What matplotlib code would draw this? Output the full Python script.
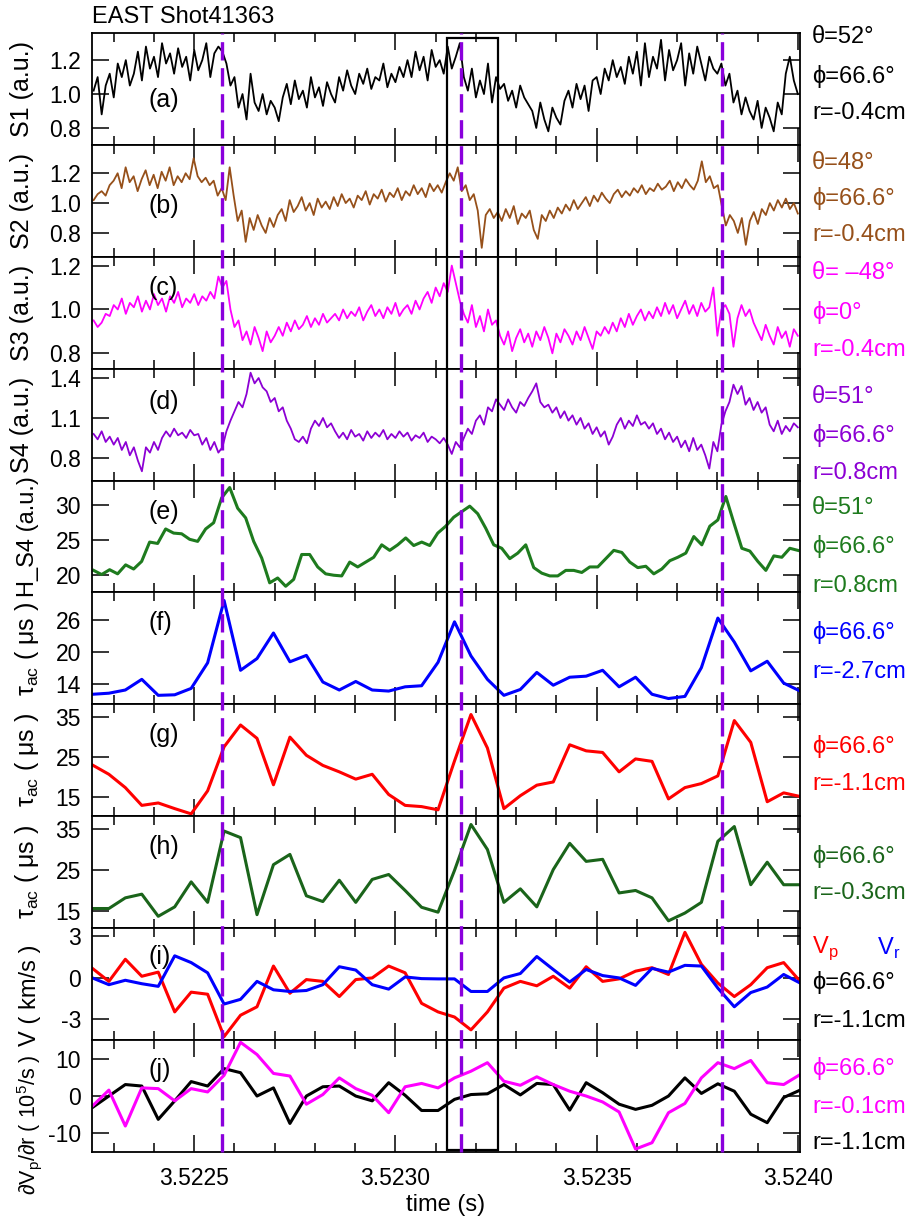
import numpy as np
import matplotlib
matplotlib.use("Agg")
import matplotlib.pyplot as plt
from matplotlib.lines import Line2D
from matplotlib.patches import Rectangle
from matplotlib.ticker import MultipleLocator, FormatStrFormatter
from matplotlib.transforms import blended_transform_factory

plt.rcParams['font.family'] = ['Liberation Sans', 'DejaVu Sans']
plt.rcParams['axes.unicode_minus'] = False

# ---- probe signals (normalised), 10 us sampling over the window ----
s1 = [1.02, 1.10, 0.88, 1.05, 1.12, 0.98,
      1.18, 1.10, 1.20, 1.05, 1.12,
      1.25, 1.08, 1.28, 1.15, 1.22, 1.10, 1.30, 1.18, 1.24, 1.12, 1.27, 1.16, 1.22, 1.08, 1.26, 1.14, 1.20, 1.30, 1.10, 1.24, 1.28,
      1.25, 1.18, 1.05,
      1.10, 0.92, 1.00, 0.85, 1.12, 0.95, 0.90, 1.00, 0.88, 0.96, 0.92, 0.84, 0.98,
      1.06, 0.94, 1.08, 0.97, 1.02, 0.92, 1.10, 0.98, 1.04, 0.93, 1.07, 1.00, 0.95,
      1.10, 1.02, 1.14, 1.05, 1.00, 1.12, 1.06, 1.15, 1.03, 1.10, 1.08, 1.18, 1.04, 1.12, 1.07, 1.16, 1.10,
      1.20, 1.10, 1.25, 1.14, 1.22, 1.08, 1.26, 1.16, 1.20, 1.12, 1.28, 1.15, 1.22, 1.30,
      1.10, 1.02, 1.15, 0.98, 1.08, 1.00, 1.18, 0.95, 1.10, 1.03,
      1.06, 0.96, 1.02, 0.92, 1.05, 0.98, 0.94,
      0.90, 0.80, 0.95, 0.85, 0.78, 0.92, 0.86, 0.82, 0.96,
      1.02, 0.92, 1.06, 0.97, 1.05, 0.90, 1.08, 1.10, 1.00,
      1.15, 1.08, 1.20, 1.10, 1.16, 1.06, 1.22,
      1.12, 1.25, 1.05, 1.30, 1.10, 1.22, 1.15, 1.32, 1.08, 1.26, 1.14, 1.20, 1.30, 1.05, 1.24, 1.12, 1.28, 1.18, 1.08, 1.22, 1.15, 1.12, 1.18,
      1.05, 1.12, 0.95, 1.02, 0.88, 0.98, 0.90, 0.85, 0.96, 0.80, 0.92, 0.86, 0.78, 0.95, 0.88,
      1.12, 1.22, 1.08, 1.00]

s2 = [1.02, 1.06, 1.08, 1.05, 1.12, 1.15,
      1.20, 1.10, 1.24, 1.14, 1.18, 1.08, 1.16, 1.22, 1.12, 1.19, 1.10, 1.21, 1.15, 1.24, 1.12, 1.18, 1.14, 1.20, 1.16,
      1.30,
      1.18, 1.14, 1.17, 1.12, 1.15,
      1.05, 1.10, 1.02, 1.24,
      1.05, 0.88, 0.95, 0.74, 0.90, 0.82, 0.92, 0.85, 0.80, 0.90, 0.84, 0.92,
      0.96, 0.88, 1.02, 0.94, 0.98, 1.04, 0.95, 1.00, 0.92, 1.03, 0.97, 1.01, 0.96,
      1.04, 0.98, 1.06, 1.00, 1.03, 0.97, 1.05, 1.02, 1.08, 0.99, 1.06, 1.03, 1.09, 1.01, 1.07,
      1.04, 1.10, 1.02, 1.08, 1.05, 1.12, 1.06, 1.10, 1.04, 1.13, 1.08, 1.12, 1.07, 1.14,
      1.20, 1.15, 1.24,
      1.08, 1.12, 1.02, 1.06, 0.95,
      0.70, 0.92, 0.96, 0.90,
      0.94, 0.88, 0.96, 0.90, 0.98, 0.86, 0.93, 0.90, 0.95, 0.82, 0.76, 0.92, 0.88, 0.95, 0.90, 0.97,
      0.93, 0.99, 0.95, 1.02, 0.96, 1.00, 1.04, 0.98, 1.05, 1.01, 1.07, 1.03, 1.00, 1.06, 1.09, 1.04, 1.08, 1.05, 1.10, 1.07,
      1.12, 1.06, 1.10, 1.08, 1.13, 1.09, 1.11, 1.15, 1.08, 1.14, 1.10, 1.16, 1.12, 1.09, 1.15, 1.28, 1.14, 1.18, 1.10,
      1.12, 0.98, 0.85, 0.92, 0.88, 0.80, 0.90, 0.72, 0.88, 0.94, 0.86, 0.96, 0.92, 1.00, 0.95, 1.02, 0.97, 1.03, 0.96, 1.00, 0.93]

s3 = [0.95, 0.92, 0.94,
      0.98, 0.97, 1.02,
      1.00, 1.05, 0.98, 1.03, 1.01, 1.06, 0.99, 1.04, 1.00, 1.07, 1.02, 1.05, 0.99, 1.06, 1.03, 1.08, 1.01, 1.05, 1.03, 1.07, 1.02, 1.06, 1.04, 1.08, 1.05,
      1.15, 1.10, 1.13,
      1.00, 0.92, 0.95,
      0.86, 0.90, 0.84, 0.92, 0.87, 0.81, 0.90, 0.85, 0.88,
      0.92, 0.88, 0.94, 0.90, 0.95, 0.91, 0.93, 0.97, 0.92, 0.96, 0.93, 0.98, 0.94, 0.96,
      0.98, 0.95, 1.00, 0.96, 0.99, 0.97, 1.01, 0.95, 0.99, 1.02, 0.97, 1.00, 0.96, 1.01, 0.98, 1.03, 0.97, 1.00, 1.02, 0.98, 1.04, 1.00,
      1.05, 1.08, 1.03, 1.10, 1.06, 1.12, 1.08,
      1.20, 1.12, 1.04,
      0.98, 0.94, 1.02, 0.92, 0.97, 0.90, 1.00, 0.93, 0.95,
      0.88, 0.84, 0.90, 0.81, 0.87, 0.91, 0.85, 0.89, 0.83, 0.90, 0.86, 0.92, 0.87, 0.80, 0.89, 0.85, 0.91, 0.88, 0.84, 0.90, 0.86, 0.92, 0.87, 0.82, 0.90, 0.88, 0.92, 0.89,
      0.94, 0.90, 0.96, 0.92, 0.98, 0.93, 0.97, 1.00, 0.95, 0.99, 0.96, 1.01, 0.97, 1.03, 0.98, 1.02, 0.96, 1.00, 1.04, 0.98, 1.02, 0.97, 1.03, 0.99, 1.01, 1.10, 0.88,
      1.00, 1.02, 0.98, 0.83, 0.96,
      1.02, 0.97, 1.00, 0.94,
      0.90, 0.86, 0.93, 0.88, 0.84, 0.92, 0.87, 0.90, 0.83, 0.91, 0.88]

s4 = [0.98, 0.94, 1.00, 0.92, 0.96,
      0.90, 0.95, 0.86, 0.92, 0.82, 0.88, 0.78, 0.70,
      0.88, 0.84, 0.92, 0.86,
      0.95, 1.00, 0.96, 1.02, 0.97, 0.99, 0.95, 1.01, 0.97, 0.98,
      0.90, 0.95, 0.86, 0.92, 0.84, 0.88,
      1.00, 1.08,
      1.15, 1.22, 1.18, 1.28,
      1.44, 1.36, 1.40, 1.33,
      1.30, 1.22, 1.25, 1.15, 1.18, 1.08, 1.02, 0.94,
      0.92, 0.96, 0.91,
      1.02, 1.08, 1.04, 1.10, 1.03, 1.06,
      1.00, 0.95, 0.99, 0.94, 1.01, 0.96, 0.98, 0.93, 1.00, 0.95, 0.99, 0.96, 1.01, 0.94,
      0.98, 0.95, 1.00, 0.96, 0.99, 0.93, 0.97, 0.95, 0.99, 0.92, 0.96, 0.94, 0.91, 0.95,
      0.90, 0.83, 0.92, 0.88,
      0.95, 1.02, 0.98, 1.08, 1.12, 1.05, 1.18, 1.15, 1.24,
      1.20, 1.16, 1.24, 1.18, 1.14, 1.22, 1.19, 1.25, 1.30, 1.36, 1.22, 1.18,
      1.20, 1.14, 1.18, 1.10, 1.15, 1.08, 1.12, 1.05, 1.10, 1.02, 1.06, 0.98, 1.03, 0.96, 1.00, 0.90, 0.96,
      1.05, 1.10, 1.02, 1.08, 1.04, 1.12, 1.05, 1.07, 1.02, 1.06,
      0.98, 1.02, 0.94, 0.99, 0.92, 0.96, 0.88, 0.93, 0.85, 0.95, 0.86, 0.90, 0.82, 0.72,
      0.92, 0.85, 1.05, 1.15,
      1.22, 1.35, 1.28,
      1.34, 1.20, 1.25, 1.16, 1.22, 1.14, 1.18,
      1.05, 1.00, 1.08, 0.98, 1.04, 1.00, 1.06, 1.03]

# Hilbert envelope of S4, 20 us sampling
h_s4 = [20.6, 20.0, 20.7, 20.1, 21.4, 20.8, 21.9, 24.7, 24.5, 26.6,
        26.0, 25.9, 25.1, 24.8, 26.6, 27.5, 31.1, 32.6, 29.6, 28.2,
        24.8, 22.4, 18.8, 19.5, 18.3, 19.3, 22.9, 22.9, 21.1, 20.1,
        19.9, 19.8, 21.8, 21.1, 21.8, 22.5, 24.3, 23.5, 24.3, 25.3,
        24.2, 24.7, 24.2, 26.0, 27.0, 28.3,
        29.1, 29.9, 28.8, 26.7, 24.3, 23.8, 22.3, 23.1, 24.3, 21.0,
        20.2, 19.8, 19.8, 20.6, 20.6, 20.3, 21.1, 21.1, 22.3, 23.5,
        23.2, 21.8, 21.0, 21.2, 20.1, 20.8, 22.0, 22.5, 23.1, 25.5,
        24.3, 27.0, 27.9, 31.3, 27.5, 23.8, 23.4, 21.9, 20.6, 22.7,
        22.5, 23.8, 23.5]

# autocorrelation times (us) and velocities, one value per analysis window
tau_f = [12.0, 12.2, 12.8, 14.8, 11.8, 11.9, 13.1, 17.9, 29.6, 16.5,
         18.7, 23.5, 18.1, 19.3, 14.3, 12.8, 14.4, 12.8, 12.6, 13.4,
         13.6, 18.0, 25.6, 19.2, 14.8, 11.8, 12.9, 16.1, 13.7, 15.2,
         15.4, 16.5, 13.4, 15.2, 12.0, 11.2, 11.6, 17.0, 26.3, 21.8,
         16.4, 18.2, 14.1, 12.6]
tau_g = [23.0, 20.7, 17.4, 13.0, 13.6, 12.2, 10.9, 16.6, 27.5, 32.9,
         29.6, 18.1, 29.9, 25.4, 22.9, 21.3, 19.5, 20.7, 15.7, 13.0,
         12.7, 11.9, 24.0, 35.5, 27.2, 12.2, 15.4, 18.0, 18.8, 28.0,
         26.5, 26.1, 21.3, 24.5, 23.9, 14.6, 17.4, 18.4, 20.3, 34.0,
         28.6, 13.9, 16.1, 15.2]
tau_h = [15.7, 15.7, 18.3, 19.2, 13.8, 16.1, 22.2, 17.2, 34.6, 33.0,
         14.2, 26.4, 28.9, 18.8, 17.4, 22.6, 17.2, 22.8, 24.0, 20.1,
         16.0, 14.8, 25.0, 36.2, 30.1, 17.2, 20.5, 16.1, 25.2, 31.6,
         27.2, 27.7, 19.5, 20.1, 18.3, 12.7, 14.6, 17.2, 32.1, 35.7,
         21.5, 27.0, 21.5, 21.5]
v_p = [0.69, -0.25, 1.35, 0.12, 0.42, -2.46, -1.03, -1.18, -4.25, -2.70,
       -2.09, 0.86, -1.11, -0.12, -0.25, -1.35, -0.12, 0.00, 0.86, 0.37,
       -1.84, -2.46, -2.83, -3.76, -2.46, -0.74, -0.25, -0.57, 0.12, -0.74,
       0.81, -0.25, -0.07, 0.49, 0.74, 0.25, 3.30, 0.98, -0.37, -1.35,
       -0.49, 0.74, 1.11, -0.25]
v_r = [0.00, -0.49, -0.17, -0.42, -0.61, 1.60, 1.11, 0.37, -1.89, -1.55,
       -0.25, -0.86, -0.98, -0.91, -0.49, 0.81, 0.57, -0.49, -0.81, 0.07,
       -0.05, -0.07, -0.07, -0.98, -0.98, 0.00, 0.32, 1.55, 0.61, -0.30,
       0.61, 0.17, 0.00, -0.54, 0.69, 0.42, 0.91, 0.86, -0.74, -2.09,
       -1.06, -0.66, 0.25, -0.37]
shear_01 = [-2.7, 1.6, -8.1, 2.2, 2.0, -1.3, 2.0, 1.1, 5.6, 14.5,
            11.2, 6.1, 5.4, -2.2, 0.4, 4.9, 2.0, 0.2, -4.5, 2.5,
            3.4, 2.2, 4.9, 6.7, 9.0, 4.0, 2.9, 5.2, 3.1, 1.3,
            0.0, -1.6, -4.3, -14.3, -12.6, -4.5, -2.0, 4.9, 9.0, 7.4,
            9.6, 3.6, 3.1, 5.8]
shear_11 = [-3.1, 0.0, 3.1, 2.7, -6.3, -1.3, 3.9, 2.7, 7.4, 6.3,
            0.0, 2.2, -7.4, 0.0, 2.5, 2.7, 0.0, -1.3, 3.6, 0.2,
            -3.9, -3.9, -0.9, 0.4, 0.6, 3.1, 0.3, 3.4, 3.1, -3.8,
            3.6, 0.9, -2.2, -3.6, -2.5, 0.0, 4.9, 0.7, 3.3, 1.3,
            -4.9, -7.2, -0.4, 1.6]

# ELM-like events and the highlighted interval
event_times = [3.52257, 3.523163, 3.523812]
box_t = (3.523128, 3.523255)

T_START, T_END = 3.52225, 3.52400
WIN0, WIN_STEP = 3.522247, 4.09e-5

t_probe = np.linspace(T_START, T_END, len(s1))
t_s2 = np.linspace(T_START, T_END, len(s2))
t_s3 = np.linspace(T_START, T_END, len(s3))
t_s4 = np.linspace(T_START, T_END, len(s4))
t_env = np.linspace(T_START, T_END, len(h_s4))
t_win = WIN0 + WIN_STEP * np.arange(len(tau_f))

brown = '#96501A'
purple = '#8C00D4'
green = '#1E7B1E'
dkgreen = '#1A641A'
dash_col = '#8A00DC'

fig, axes = plt.subplots(10, 1, figsize=(9.11, 12.18), dpi=100, sharex=True)
fig.subplots_adjust(left=0.101, right=0.878, top=0.9729, bottom=0.0542, hspace=0)

axes[0].plot(t_probe, s1, color='black', lw=1.3)
axes[1].plot(t_s2, s2, color=brown, lw=1.3)
axes[2].plot(t_s3, s3, color='#FF00FF', lw=1.3)
axes[3].plot(t_s4, s4, color=purple, lw=1.3)
axes[4].plot(t_env, h_s4, color=green, lw=2.2)
axes[5].plot(t_win, tau_f, color='#0000FF', lw=2.2)
axes[6].plot(t_win, tau_g, color='#FF0000', lw=2.2)
axes[7].plot(t_win, tau_h, color=dkgreen, lw=2.2)
axes[8].plot(t_win, v_p, color='#FF0000', lw=2.2)
axes[8].plot(t_win, v_r, color='#0000FF', lw=2.2)
axes[9].plot(t_win, shear_11, color='black', lw=2.2)
axes[9].plot(t_win, shear_01, color='#FF00FF', lw=2.2)

ylims = [(0.70, 1.36), (0.64, 1.39), (0.73, 1.24), (0.63, 1.47), (17.4, 33.6),
         (10.1, 31.1), (10.3, 38.0), (10.9, 38.2), (-4.5, 3.6), (-15.1, 15.1)]
yticks = [[0.8, 1.0, 1.2], [0.8, 1.0, 1.2], [0.8, 1.0, 1.2], [0.8, 1.1, 1.4],
          [20, 25, 30], [14, 20, 26], [15, 25, 35], [15, 25, 35], [-3, 0, 3], [-10, 0, 10]]
ylabels = ['S1 (a.u.)', 'S2 (a.u.)', 'S3 (a.u.)', 'S4 (a.u.)', 'H_S4 (a.u.)',
           'τ$_{\\mathregular{ac}}$ ( μs )', 'τ$_{\\mathregular{ac}}$ ( μs )', 'τ$_{\\mathregular{ac}}$ ( μs )',
           'V ( km/s )', '∂V$_{\\mathregular{p}}$/∂r ( 10$^{\\mathregular{5}}$/s )']
ylabel_size = [18, 18, 18, 18, 17, 18, 18, 18, 17, 15.5]
ylabel_pos = [(-0.082, 0.5), (-0.082, 0.5), (-0.082, 0.5), (-0.082, 0.5), (-0.075, 0.5),
              (-0.072, 0.5), (-0.072, 0.5), (-0.072, 0.5), (-0.072, 0.40), (-0.068, 0.24)]
letters = ['(a)', '(b)', '(c)', '(d)', '(e)', '(f)', '(g)', '(h)', '(i)', '(j)']
letter_y = [0.40, 0.45, 0.72, 0.70, 0.72, 0.73, 0.73, 0.73, 0.74, 0.73]

for k, ax in enumerate(axes):
    ax.set_xlim(3.522246, 3.524005)
    ax.set_ylim(*ylims[k])
    ax.set_yticks(yticks[k])
    if k < 4:
        ax.yaxis.set_major_formatter(FormatStrFormatter('%.1f'))
    ax.xaxis.set_major_locator(MultipleLocator(0.0005))
    ax.xaxis.set_minor_locator(MultipleLocator(0.0001))
    ax.tick_params(axis='x', which='major', direction='in', top=True, bottom=True,
                   length=12, width=1.1, labelsize=16.5, pad=11)
    ax.tick_params(axis='x', which='minor', direction='in', top=True, bottom=True,
                   length=6.5, width=1.1)
    ax.tick_params(axis='y', direction='in', left=True, right=True,
                   length=12, width=1.1, labelsize=16.5, pad=8)
    for sp in ax.spines.values():
        sp.set_linewidth(1.3)
    ax.set_ylabel(ylabels[k], fontsize=ylabel_size[k])
    ax.yaxis.set_label_coords(*ylabel_pos[k])
    ax.text(0.08, letter_y[k], letters[k], transform=ax.transAxes,
            fontsize=18, ha='left', va='center')

axes[-1].xaxis.set_major_formatter(FormatStrFormatter('%.4f'))

# event markers and highlighted window span all panels
trans = blended_transform_factory(axes[0].transData, fig.transFigure)
for te in event_times:
    fig.add_artist(Line2D([te, te], [0.0542, 0.9729], transform=trans,
                          color=dash_col, lw=2.4, linestyle=(0, (5.5, 2.3))))
fig.add_artist(Rectangle((box_t[0], 0.0558), box_t[1] - box_t[0], 0.969 - 0.0558,
                         transform=trans, fill=False, ec='black', lw=1.6))

# probe positions at right
H = 1218.0
side_labels = [
    (37, 'θ=52°', 'black'), (76, 'ϕ=66.6°', 'black'), (113, 'r=-0.4cm', 'black'),
    (163, 'θ=48°', brown), (199, 'ϕ=66.6°', brown), (235, 'r=-0.4cm', brown),
    (273, 'θ= –48°', '#FF00FF'), (312, 'ϕ=0°', '#FF00FF'), (350, 'r=-0.4cm', '#FF00FF'),
    (397, 'θ=51°', purple), (435, 'ϕ=66.6°', purple), (473, 'r=0.8cm', purple),
    (508, 'θ=51°', green), (547, 'ϕ=66.6°', green), (586, 'r=0.8cm', green),
    (633, 'ϕ=66.6°', '#0000FF'), (672, 'r=-2.7cm', '#0000FF'),
    (747, 'ϕ=66.6°', '#FF0000'), (784, 'r=-1.1cm', '#FF0000'),
    (856, 'ϕ=66.6°', dkgreen), (893, 'r=-0.3cm', dkgreen),
    (982, 'ϕ=66.6°', 'black'), (1021, 'r=-1.1cm', 'black'),
    (1068, 'ϕ=66.6°', '#FF00FF'), (1107, 'r=-0.1cm', '#FF00FF'), (1143, 'r=-1.1cm', 'black'),
]
for ypx, txt, col in side_labels:
    fig.text(812 / 911, 1 - ypx / H, txt, color=col, fontsize=17, ha='left', va='center')
fig.text(812 / 911, 1 - 948 / H, 'V$_{\\mathregular{p}}$', color='#FF0000', fontsize=17, ha='left', va='center')
fig.text(877 / 911, 1 - 948 / H, 'V$_{\\mathregular{r}}$', color='#0000FF', fontsize=17, ha='left', va='center')

fig.text(92 / 911, 1 - 17 / H, 'EAST Shot41363', fontsize=17, ha='left', va='center')
fig.text(446 / 911, 1 - 1205 / H, 'time (s)', fontsize=17, ha='center', va='center')

fig.savefig('out.png', dpi=100)
